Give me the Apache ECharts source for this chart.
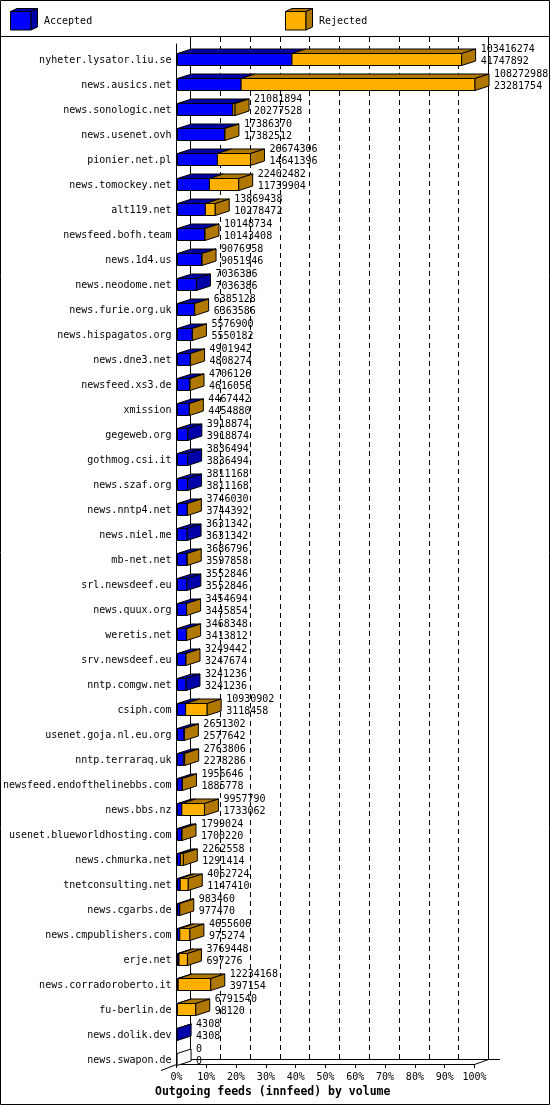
<!DOCTYPE html>
<html>
<head>
<meta charset="utf-8">
<script src="https://cdn.jsdelivr.net/npm/echarts/dist/echarts.min.js"></script>
<style>
  html, body { margin: 0; padding: 0; background: #fff; }
  #chart { width: 550px; height: 1105px; }
</style>
</head>
<body>
<div id="chart"></div>
<script>
let hosts = [
    'nyheter.lysator.liu.se', 'news.ausics.net', 'news.sonologic.net', 'news.usenet.ovh',
    'pionier.net.pl', 'news.tomockey.net', 'alt119.net', 'newsfeed.bofh.team',
    'news.1d4.us', 'news.neodome.net', 'news.furie.org.uk', 'news.hispagatos.org',
    'news.dne3.net', 'newsfeed.xs3.de', 'xmission', 'gegeweb.org',
    'gothmog.csi.it', 'news.szaf.org', 'news.nntp4.net', 'news.niel.me',
    'mb-net.net', 'srl.newsdeef.eu', 'news.quux.org', 'weretis.net',
    'srv.newsdeef.eu', 'nntp.comgw.net', 'csiph.com', 'usenet.goja.nl.eu.org',
    'nntp.terraraq.uk', 'newsfeed.endofthelinebbs.com', 'news.bbs.nz', 'usenet.blueworldhosting.com',
    'news.chmurka.net', 'tnetconsulting.net', 'news.cgarbs.de', 'news.cmpublishers.com',
    'erje.net', 'news.corradoroberto.it', 'fu-berlin.de', 'news.dolik.dev',
    'news.swapon.de'
];
// offered (top number) and accepted (bottom number)
let totals = [
    103416274, 108272988, 21081894, 17386370, 26674306, 22402482, 13869438, 10148734,
    9076958, 7036386, 6385128, 5576900, 4901942, 4706126, 4467442, 3918874,
    3836494, 3811168, 3746030, 3631342, 3686796, 3552846, 3454694, 3468348,
    3249442, 3241236, 10930902, 2651302, 2763806, 1956646, 9957790, 1799024,
    2262558, 4062724, 983460, 4655606, 3769448, 12234168, 6791540, 4308,
    0
];
let accepted = [
    41747892, 23281754, 20277528, 17382512, 14641396, 11739904, 10278472, 10143408,
    9051946, 7036386, 6363586, 5550182, 4808274, 4616056, 4454880, 3918874,
    3836494, 3811168, 3744392, 3631342, 3597858, 3552846, 3445854, 3413812,
    3247674, 3241236, 3118458, 2577642, 2278286, 1885778, 1733062, 1700220,
    1291414, 1147410, 977470, 975274, 697276, 397154, 98120, 4308,
    0
];

let font = 'DejaVu Sans Mono';
let blue = '#0000ff', blueDark = '#0000a8';
let orange = '#ffb000', brown = '#b07800';
let dx = 14, dy = 4.5;

let maxTotal = Math.max.apply(null, totals);
let barData = hosts.map(function (h, i) {
    return [i, accepted[i] / maxTotal * 100, totals[i] / maxTotal * 100];
});

let dom = document.getElementById('chart');
let Chart = echarts.init(dom);

function renderBar(params, api) {
    let i = api.value(0);
    let accP = api.value(1);
    let totP = api.value(2);
    let p0 = api.coord([0, i]);
    let p1 = api.coord([accP, i]);
    let p2 = api.coord([totP, i]);
    let cy = p0[1];
    let x0 = Math.round(p0[0]) + 0.5;
    let x1 = p1[0] + 0.5;
    let x2 = p2[0] + 0.5;
    let ft = Math.round(cy - 7.5) + 0.5;
    let fb = ft + 12;
    let stroke = { stroke: '#000', lineWidth: 1 };
    let kids = [];
    let rej = totals[i] - accepted[i];
    if (accepted[i] > 0) {
        kids.push({ type: 'polygon', shape: { points: [[x0, ft], [x1, ft], [x1 + dx, ft - dy], [x0 + dx, ft - dy]] },
            style: Object.assign({ fill: blueDark }, stroke) });
    }
    if (rej > 0) {
        kids.push({ type: 'polygon', shape: { points: [[x1, ft], [x2, ft], [x2 + dx, ft - dy], [x1 + dx, ft - dy]] },
            style: Object.assign({ fill: brown }, stroke) });
    }
    if (accepted[i] > 0) {
        kids.push({ type: 'rect', shape: { x: x0, y: ft, width: x1 - x0, height: fb - ft },
            style: Object.assign({ fill: blue }, stroke) });
    }
    if (rej > 0) {
        kids.push({ type: 'rect', shape: { x: x1, y: ft, width: x2 - x1, height: fb - ft },
            style: Object.assign({ fill: orange }, stroke) });
    }
    let side = totals[i] === 0 ? '#fff' : (rej > 0 ? brown : blueDark);
    kids.push({ type: 'polygon', shape: { points: [[x2, ft], [x2 + dx, ft - dy], [x2 + dx, fb - dy], [x2, fb]] },
        style: Object.assign({ fill: side }, stroke) });
    kids.push({ type: 'text', x: x2 + dx + 5, y: cy - 11,
        style: { text: String(totals[i]), font: '10px ' + font, fill: '#000', verticalAlign: 'middle' } });
    kids.push({ type: 'text', x: x2 + dx + 5, y: cy + 1,
        style: { text: String(accepted[i]), font: '10px ' + font, fill: '#000', verticalAlign: 'middle' } });
    return { type: 'group', children: kids };
}

function legendBox(x, y, front, dark) {
    return {
        type: 'group',
        children: [
            { type: 'polygon', shape: { points: [[x, y], [x + 20.5, y], [x + 27, y - 3], [x + 6.5, y - 3]] },
                style: { fill: dark, stroke: '#000', lineWidth: 1 } },
            { type: 'rect', shape: { x: x, y: y, width: 20.5, height: 18.5 },
                style: { fill: front, stroke: '#000', lineWidth: 1 } },
            { type: 'polygon', shape: { points: [[x + 20.5, y], [x + 27, y - 3], [x + 27, y + 15.5], [x + 20.5, y + 18.5]] },
                style: { fill: dark, stroke: '#000', lineWidth: 1 } }
        ]
    };
}

let option = {
    animation: false,
    backgroundColor: '#fff',
    title: {
        text: 'Outgoing feeds (innfeed) by volume',
        left: 155,
        top: 1086,
        padding: 0,
        textStyle: { fontFamily: font, fontSize: 11.5, fontWeight: 'bold', color: '#000' }
    },
    grid: [
        { left: 176.5, right: 75.5, top: 48, bottom: 32 },
        { left: 190.5, right: 61.5, top: 37, bottom: 46 },
        { left: 176.5, right: 75.5, top: 44, bottom: 41 }
    ],
    xAxis: [
        { gridIndex: 0, type: 'value', min: 0, max: 100, show: false },
        {
            gridIndex: 1, type: 'value', min: 0, max: 100, interval: 10,
            axisLine: { show: true, lineStyle: { color: '#000', width: 1 } },
            axisTick: { show: false },
            axisLabel: { show: false },
            splitLine: { show: true, lineStyle: { color: '#000', width: 1, type: [5, 4] } }
        },
        {
            gridIndex: 2, type: 'value', min: 0, max: 100, interval: 10,
            axisLine: { show: true, lineStyle: { color: '#000', width: 1 } },
            axisTick: { show: true, length: 4, lineStyle: { color: '#000' } },
            axisLabel: { show: true, margin: 8, formatter: '{value}%', fontFamily: font, fontSize: 10, color: '#000' },
            splitLine: { show: false }
        }
    ],
    yAxis: [
        {
            gridIndex: 0, type: 'category', data: hosts, inverse: true,
            axisLine: { show: false },
            axisTick: { show: false },
            axisLabel: { interval: 0, margin: 5, fontFamily: font, fontSize: 10, color: '#000' },
            splitLine: { show: false }
        },
        {
            gridIndex: 1, type: 'value', min: 0, max: 1, position: 'left',
            axisLine: { show: true, lineStyle: { color: '#000', width: 1 } },
            axisTick: { show: false }, axisLabel: { show: false }, splitLine: { show: false }
        },
        {
            gridIndex: 1, type: 'value', min: 0, max: 1, position: 'right',
            axisLine: { show: true, lineStyle: { color: '#000', width: 1 } },
            axisTick: { show: false }, axisLabel: { show: false }, splitLine: { show: false }
        },
        {
            gridIndex: 2, type: 'value', min: 0, max: 1,
            axisLine: { show: true, lineStyle: { color: '#000', width: 1 } },
            axisTick: { show: false }, axisLabel: { show: false }, splitLine: { show: false }
        }
    ],
    series: [
        {
            type: 'custom',
            xAxisIndex: 0,
            yAxisIndex: 0,
            renderItem: renderBar,
            encode: { x: [1, 2], y: 0 },
            data: barData,
            clip: false
        }
    ],
    graphic: [
        { type: 'rect', shape: { x: 0.5, y: 0.5, width: 549, height: 1104 }, style: { fill: null, stroke: '#000', lineWidth: 1 } },
        { type: 'line', shape: { x1: 0, y1: 36.5, x2: 550, y2: 36.5 }, style: { stroke: '#000', lineWidth: 1 } },
        legendBox(10.5, 11.5, blue, blueDark),
        { type: 'text', x: 44, y: 21, style: { text: 'Accepted', font: '10px ' + font, fill: '#000', verticalAlign: 'middle' } },
        legendBox(285.5, 11.5, orange, brown),
        { type: 'text', x: 319, y: 21, style: { text: 'Rejected', font: '10px ' + font, fill: '#000', verticalAlign: 'middle' } },
        { type: 'polyline', shape: { points: [[161, 1070.5], [176.5, 1064.5]] }, style: { stroke: '#000', lineWidth: 1, fill: null } },
        { type: 'polyline', shape: { points: [[474.5, 1064.5], [488.5, 1059.5], [500, 1059.5]] }, style: { stroke: '#000', lineWidth: 1, fill: null } }
    ]
};

Chart.setOption(option);
</script>
</body>
</html>
